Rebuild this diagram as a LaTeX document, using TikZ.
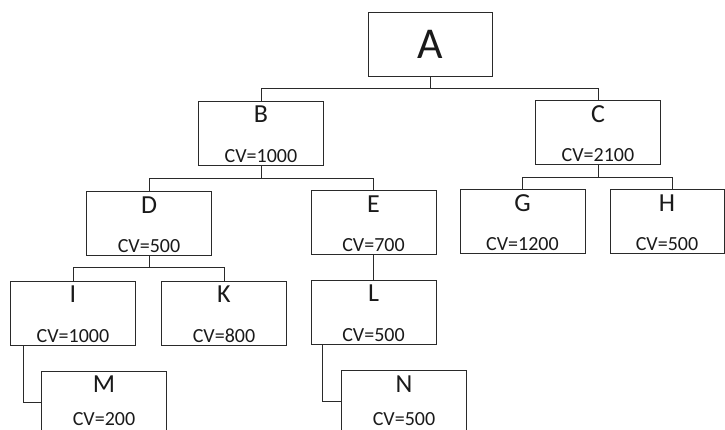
\documentclass[tikz,border=0pt]{standalone}
\usepackage{fontspec}
\setmainfont{Carlito}
\usetikzlibrary{calc}
\definecolor{linec}{HTML}{2A2A2A}
\definecolor{txtc}{HTML}{1A1A1A}
\begin{document}
\begin{tikzpicture}[x=1pt,y=-1pt,
  box/.style={draw=linec, line width=0.8pt, rectangle, minimum width=125pt, minimum height=64pt, inner sep=0pt},
  letter/.style={text=txtc, inner sep=0pt, font=\fontsize{26}{30}\selectfont},
  cvtext/.style={text=txtc, inner sep=0pt, font=\fontsize{20}{24}\selectfont},
  conn/.style={draw=linec, line width=0.8pt}]
\fill[white] (0,0) rectangle (725,430);
\clip (0,0) rectangle (725,430);
% boxes
\node[box, minimum width=124pt] (A) at (430,44) {};
\node[box] (B) at (261,133) {};
\node[box] (C) at (598,132.5) {};
\node[box] (D) at (149,223.5) {};
\node[box] (E) at (373.5,222.5) {};
\node[box] (G) at (522.5,221.5) {};
\node[box, minimum width=114pt] (H) at (667,221.5) {};
\node[box] (I) at (73,313) {};
\node[box] (K) at (224,313) {};
\node[box] (L) at (373.5,312) {};
\node[box, minimum height=62pt] (M) at (104,402) {};
\node[box, minimum height=62pt] (N) at (404,401.5) {};
% texts
\node[text=txtc, inner sep=0pt, font=\fontsize{44}{50}\selectfont] (A-l) at (A) {A};
\foreach \n/\v in {B/1000, C/2100, D/500, E/700, G/1200, H/500, I/1000, K/800, L/500} {
  \node[letter] (\n-l) at ($(\n.north)+(0,14)$) {\n};
  \node[cvtext] (\n-cv) at ($(\n.south)+(0,-9.5)$) {CV=\v};
}
\node[letter] (M-l) at ($(M.north)+(0,14)$) {M};
\node[cvtext] (M-cv) at ($(M.south)+(0,-14)$) {CV=200};
\node[letter] (N-l) at ($(N.north)+(0,14)$) {N};
\node[cvtext] (N-cv) at ($(N.south)+(0,-14)$) {CV=500};
% connectors
\draw[conn] (A.south) -- ++(0,12) coordinate (abus) -| (B.north);
\draw[conn] (abus) -| (C.north);
\draw[conn] (B.south) -- ++(0,13) coordinate (bbus) -| (D.north);
\draw[conn] (bbus) -| (E.north);
\draw[conn] (C.south) -- ++(0,13) coordinate (cbus) -| (G.north);
\draw[conn] (cbus) -| ([xshift=5pt]H.north);
\draw[conn] (D.south) -- ++(0,12) coordinate (dbus) -| (I.north);
\draw[conn] (dbus) -| (K.north);
\draw[conn] (E.south) -- (L.north);
\draw[conn] ([xshift=13pt]I.south west) |- (M.west);
\draw[conn] ([xshift=12pt]L.south west) |- (N.west);
\end{tikzpicture}
\end{document}
